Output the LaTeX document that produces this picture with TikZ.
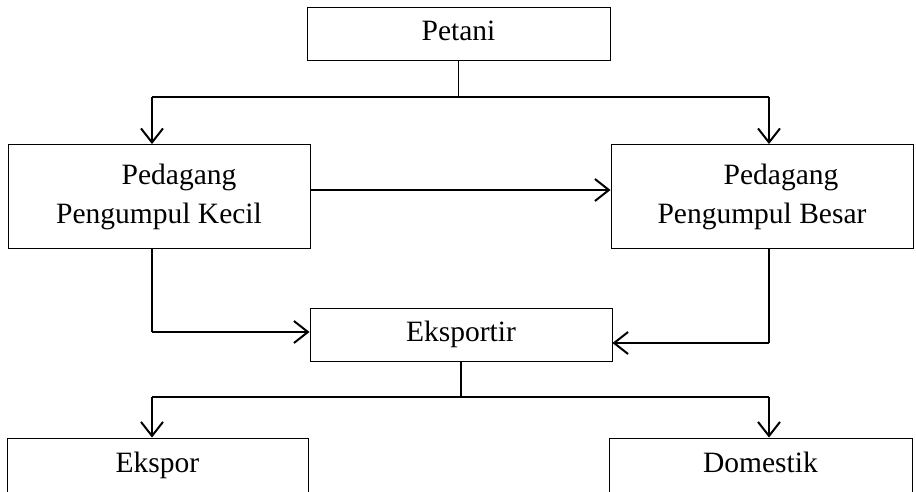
\documentclass[tikz,border=0pt]{standalone}
\usepackage{fontspec}
\setmainfont{Liberation Serif}
\usetikzlibrary{arrows.meta}

\tikzset{
  kotak/.style={draw, line width=0.9pt, inner sep=0pt, align=center,
    font=\fontsize{29.5}{39}\selectfont},
  satu/.style={kotak, text height=19pt, text depth=6pt},
  garis/.style={line width=1.1pt},
  tebal/.style={line width=2.6pt},
  panah/.style={line width=2pt, -{Straight Barb[length=14pt,width=22pt]}}
}

\begin{document}
\begin{tikzpicture}[x=1pt,y=-1pt]

    % Page size
    \useasboundingbox (0,0) rectangle (916,491);
    \clip (0,0) rectangle (916,491);

    % Boxes
    \node[satu, minimum width=303pt, minimum height=53pt] (petani) at (458.5,33.5) {Petani};
    \node[kotak, minimum width=302pt, minimum height=104pt] (kecil) at (159,196.5) {\hspace*{40pt}Pedagang\\Pengumpul Kecil};
    \node[kotak, minimum width=302pt, minimum height=104pt] (besar) at (762,196.5) {\hspace*{38pt}Pedagang\\Pengumpul Besar};
    \node[satu, minimum width=302pt, minimum height=53pt] (eksportir) at (461,334.5) {Eksportir};
    \node[satu, minimum width=301pt, minimum height=56pt] (ekspor) at (157.5,466) {Ekspor};
    \node[satu, minimum width=303pt, minimum height=56pt] (domestik) at (760.5,466) {Domestik};

    % Petani to both collectors
    \coordinate (a1) at (152,97);
    \coordinate (a2) at (769,97);
    \draw[garis] (petani.south) -- (petani.south |- a1);
    \draw[tebal] (a1) -- (a2);
    \draw[panah] (a1) -- (a1 |- kecil.north);
    \draw[panah] (a2) -- (a2 |- besar.north);

    % Kecil to Besar
    \draw[panah] ([yshift=6.5pt]kecil.east) -- ([yshift=6.5pt]besar.west);

    % Collectors to Eksportir
    \coordinate (b1) at (152,332);
    \coordinate (b2) at (769,343);
    \draw[garis] (b1 |- kecil.south) -- (b1);
    \draw[panah] (b1) -- (eksportir.west |- b1);
    \draw[garis] (b2 |- besar.south) -- (b2);
    \draw[panah] (b2) -- (eksportir.east |- b2);

    % Eksportir to Ekspor and Domestik
    \coordinate (c1) at (152,397);
    \coordinate (c2) at (769,397);
    \draw[garis] (eksportir.south) -- (eksportir.south |- c1);
    \draw[tebal] (c1) -- (c2);
    \draw[panah] (c1) -- (c1 |- ekspor.north);
    \draw[panah] (c2) -- (c2 |- domestik.north);

\end{tikzpicture}
\end{document}
